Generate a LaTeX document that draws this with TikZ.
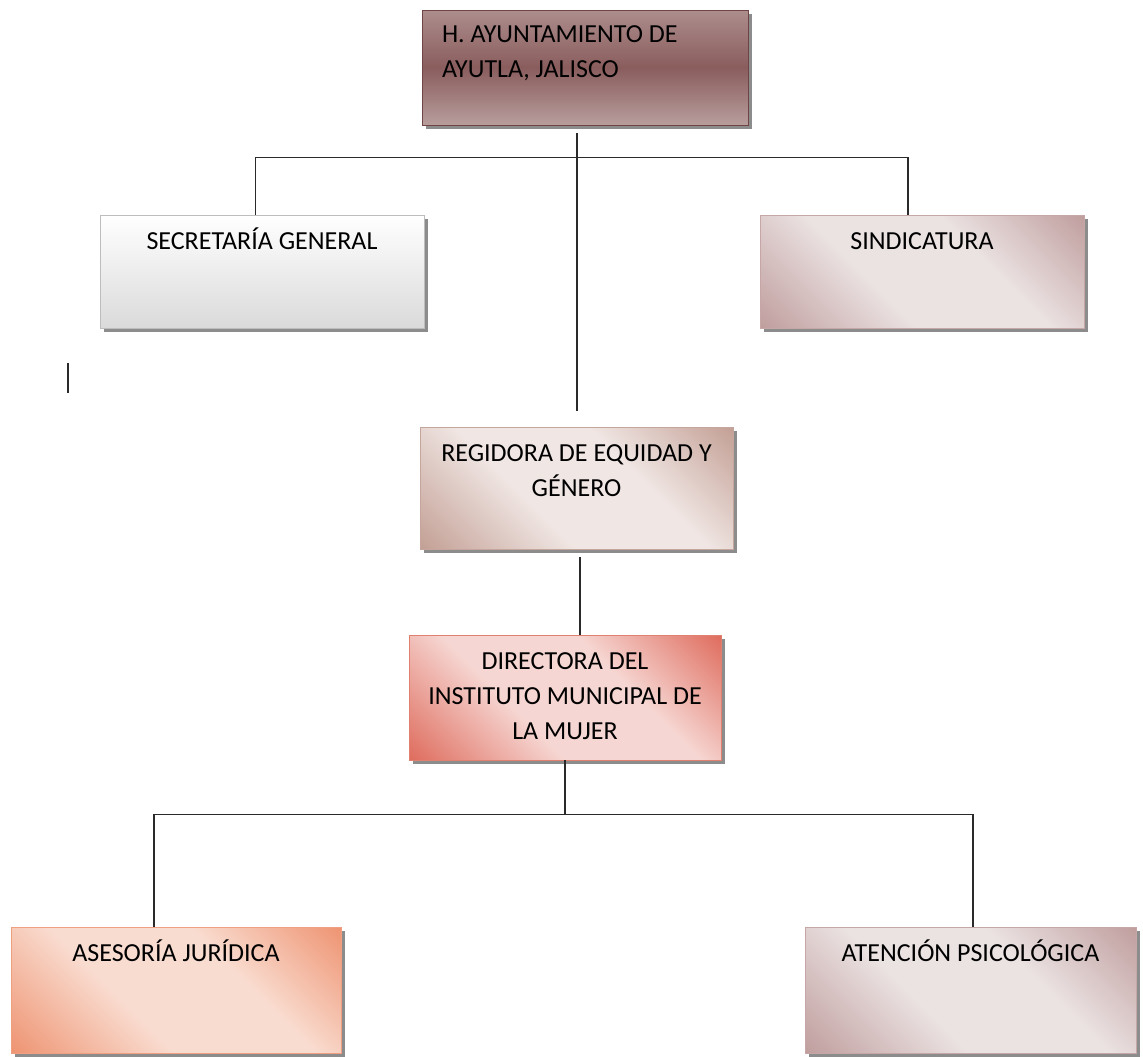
\documentclass[tikz,border=0pt]{standalone}
\usepackage{fontspec}
\setmainfont{Carlito}
\usetikzlibrary{shadows}

\definecolor{ayutop}{HTML}{AD8D8D}
\definecolor{ayumid}{HTML}{8A5D5D}
\definecolor{ayubot}{HTML}{B89D9D}
\definecolor{ayuline}{HTML}{6E4444}
\definecolor{secbot}{HTML}{DADADA}
\definecolor{secline}{HTML}{BDBDBD}
\definecolor{mauvelight}{HTML}{EBE2E2}
\definecolor{mauvedark}{HTML}{BF9C9C}
\definecolor{mauveline}{HTML}{C6A6A6}
\definecolor{reglight}{HTML}{F0E6E3}
\definecolor{regdark}{HTML}{C29E93}
\definecolor{regline}{HTML}{C4A69C}
\definecolor{dirlight}{HTML}{F6D6D2}
\definecolor{dirdark}{HTML}{DE6A5B}
\definecolor{dirline}{HTML}{E0806F}
\definecolor{aselight}{HTML}{F9DCD0}
\definecolor{asedark}{HTML}{EE9270}
\definecolor{aseline}{HTML}{F0A080}
\definecolor{wire}{HTML}{2A2A2A}

% corner shadings: name, corner colour, middle colour
\newcommand{\cornershading}[3]{\pgfdeclarehorizontalshading{#1}{100bp}{color(0bp)=(#2); color(14bp)=(#2); color(40bp)=(#3); color(62bp)=(#3); color(86bp)=(#2); color(100bp)=(#2)}}
\cornershading{mauveshade}{mauvedark}{mauvelight}
\cornershading{regshade}{regdark}{reglight}
\cornershading{dirshade}{dirdark}{dirlight}
\cornershading{aseshade}{asedark}{aselight}

% box contents: width, height (px), text
\newcommand{\unittext}[3]{\parbox[c][\dimexpr #2pt*3/4\relax][t]{\dimexpr #1pt*3/4\relax}{\centering\rule{0pt}{25.5pt}#3}}
\newcommand{\unittextleft}[3]{\parbox[c][\dimexpr #2pt*3/4\relax][t]{\dimexpr #1pt*3/4\relax}{\raggedright\leftskip=15pt\rule{0pt}{24pt}#3}}

\tikzset{
  unit/.style={rectangle, inner sep=0pt, line width=0.7pt,
    drop shadow={shadow xshift=3pt, shadow yshift=-3pt, fill=black!45, opacity=1}},
  diag/.style={shade, shading=#1, shading angle=45},
  wireline/.style={draw=wire, line width=0.9pt}
}

\begin{document}
\begin{tikzpicture}[x=0.75pt, y=-0.75pt, font=\fontsize{19.5}{26.5}\selectfont, text=black]

\useasboundingbox (0,0) rectangle (1143,1057);

% boxes
\node [unit, draw=ayuline, top color=ayutop, bottom color=ayubot, middle color=ayumid] (ayu) at (585,67.5)
  {\unittextleft{326}{115}{H. AYUNTAMIENTO DE\\AYUTLA, JALISCO}};
\node [unit, draw=secline, top color=white, bottom color=secbot] (sec) at (262,271.5)
  {\unittext{324}{113}{SECRETARÍA GENERAL}};
\node [unit, draw=mauveline, diag=mauveshade] (sind) at (922,271.5)
  {\unittext{324}{113}{SINDICATURA}};
\node [unit, draw=regline, diag=regshade] (reg) at (576.5,488)
  {\unittext{313}{122}{REGIDORA DE EQUIDAD Y\\GÉNERO}};
\node [unit, draw=dirline, diag=dirshade] (dir) at (565,697.5)
  {\unittext{312}{125}{DIRECTORA DEL\\INSTITUTO MUNICIPAL DE\\LA MUJER}};
\node [unit, draw=aseline, diag=aseshade] (ase) at (176,990)
  {\unittext{330}{126}{ASESORÍA JURÍDICA}};
\node [unit, draw=mauveline, diag=mauveshade] (ate) at (970.5,990)
  {\unittext{331}{126}{ATENCIÓN PSICOLÓGICA}};

% connectors
\draw [wireline, shorten <=6pt, shorten >=12pt] ([xshift=-6pt]ayu.south) -- ([xshift=-6pt]ayu.south |- reg.north);
\draw [wireline] ([xshift=-5pt]sec.north) -- ++(0,-57) -| ([xshift=-10.5pt]sind.north);
\draw [wireline, shorten <=6pt] ([xshift=2.6pt]reg.south) -- ([xshift=2.6pt]reg.south |- dir.north);
\draw [wireline] (dir.south) -- ++(0,55);
\draw [wireline] ([xshift=-16.5pt]ase.north) -- ++(0,-112) -| ([xshift=1.9pt]ate.north);

% stray mark
\draw [wireline] (68,363) -- (68,393);

\end{tikzpicture}
\end{document}
